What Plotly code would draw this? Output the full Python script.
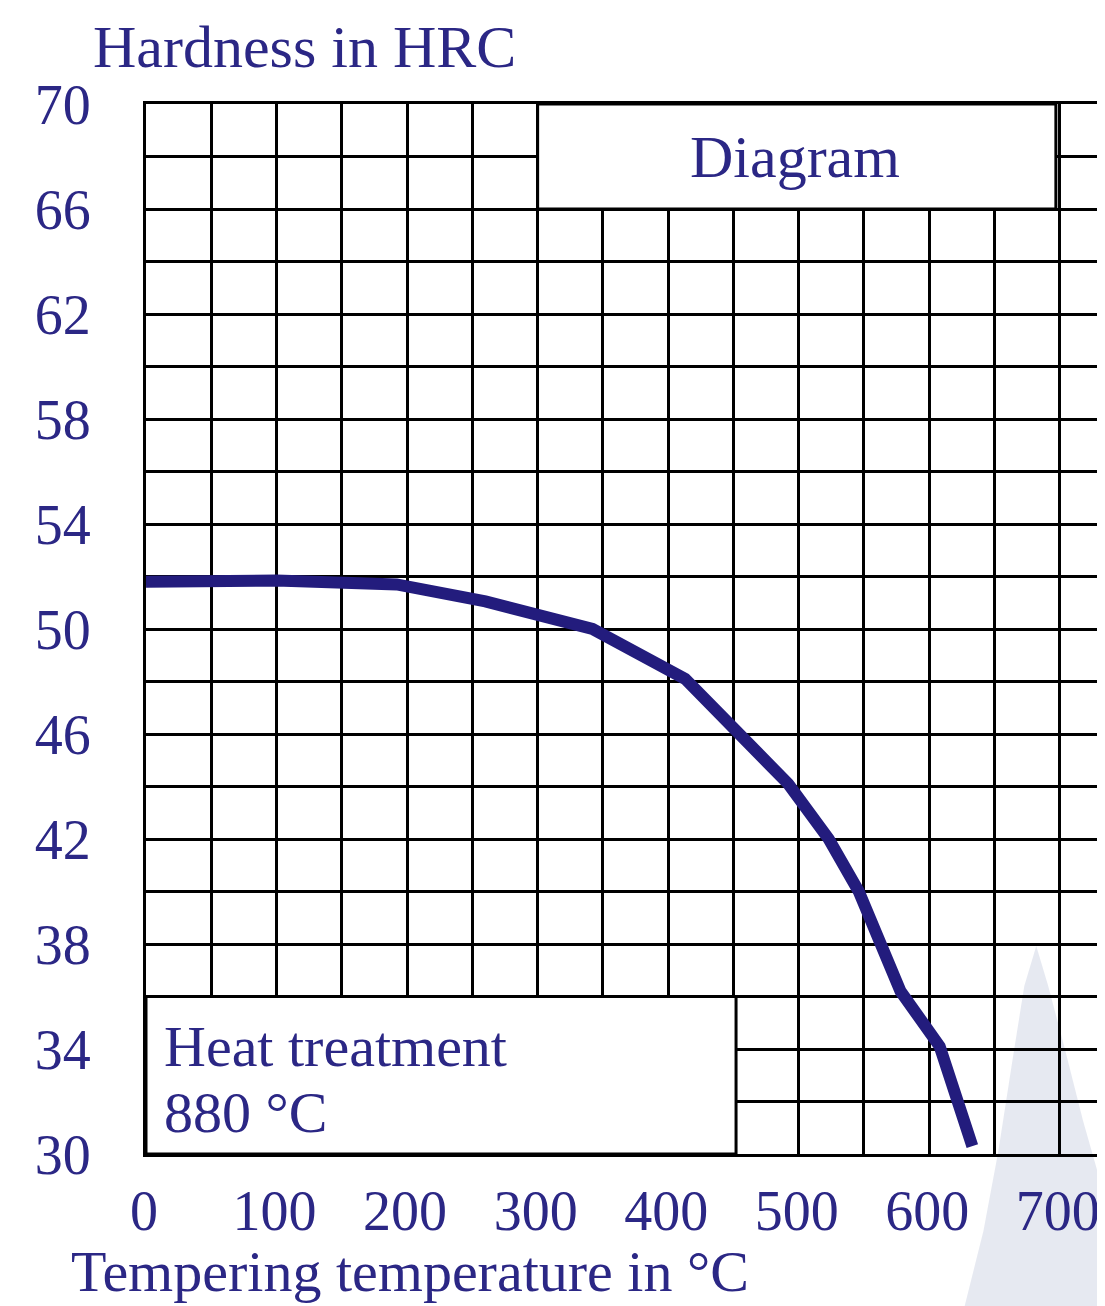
import plotly.graph_objects as go

# Data
temperature_c = [0, 100, 192, 260, 342, 413, 492, 523, 546, 578, 608, 633]
hardness_hrc = [51.8, 51.85, 51.7, 51.05, 50.0, 48.1, 44.1, 42.0, 40.0, 36.2, 34.1, 30.3]

x_tick_vals = [0, 100, 200, 300, 400, 500, 600, 700]
y_tick_vals = [30, 34, 38, 42, 46, 50, 54, 58, 62, 66, 70]

TEXT = "#2B2785"
CURVE = "#231C7D"
FONT = "Liberation Serif"

W, H = 1105, 1306
OFF = 7  # page body offset of the plot div
# desired plot area in screen pixels
SL, ST, SR, SB = 145, 103, 1105, 1153
L, T = SL - OFF, ST - OFF
B = H - (SB - OFF)
R = 0
PW, PH = W - L - R, H - T - B


def px(xs):
    return (xs - OFF - L) / PW


def py(ys):
    return (H - B - (ys - OFF)) / PH


fig = go.Figure()
fig.add_trace(go.Scatter(
    x=temperature_c, y=hardness_hrc, mode="lines",
    line=dict(color=CURVE, width=12, shape="linear"),
    hoverinfo="skip", showlegend=False,
))

fig.update_xaxes(
    range=[0, (SR - SL) / 1.3], tickvals=x_tick_vals, ticktext=[str(v) for v in x_tick_vals],
    showgrid=True, gridcolor="black", gridwidth=2.5,
    minor=dict(dtick=50, tick0=0, showgrid=True, gridcolor="black", gridwidth=2.5),
    showline=True, linecolor="black", linewidth=3, mirror=True,
    ticks="", zeroline=False,
    tickfont=dict(family=FONT, size=56, color=TEXT),
    ticklabelstandoff=6, ticklabelshift=-2,
)
fig.update_yaxes(
    range=[30, 70], tickvals=y_tick_vals, ticktext=[str(v) for v in y_tick_vals],
    showgrid=True, gridcolor="black", gridwidth=2.5,
    minor=dict(dtick=2, tick0=30, showgrid=True, gridcolor="black", gridwidth=2.5),
    showline=True, linecolor="black", linewidth=3, mirror=True,
    ticks="", zeroline=False,
    tickfont=dict(family=FONT, size=56, color=TEXT),
    ticklabelstandoff=41,
)

# Boxes covering the grid
fig.add_shape(type="rect", xref="x", yref="y", x0=300, x1=697, y0=66, y1=70,
              fillcolor="white", line=dict(color="black", width=3), layer="above")
fig.add_shape(type="rect", xref="x", yref="y", x0=0, x1=452, y0=30, y1=36,
              fillcolor="white", line=dict(color="black", width=3), layer="above")

# faint watermark in bottom right
pts = [(1038, 945), (1050, 985), (1066, 1045), (1085, 1120), (1105, 1190), (1105, 1306),
       (966, 1306), (985, 1230), (1000, 1150), (1014, 1060), (1026, 985)]
path = "M " + " L ".join(f"{px(a):.4f},{py(b):.4f}" for a, b in pts) + " Z"
fig.add_shape(type="path", xref="paper", yref="paper", path=path,
              fillcolor="rgba(226,229,238,0.85)", line=dict(width=0), layer="below")

ann_font = dict(family=FONT, size=58, color=TEXT)
fig.add_annotation(text="Hardness in HRC", xref="paper", yref="paper",
                   x=px(90), y=py(46), xanchor="left", yanchor="middle",
                   showarrow=False, font=dict(family=FONT, size=60, color=TEXT))
fig.add_annotation(text="Tempering temperature in °C", xref="paper", yref="paper",
                   x=px(68), y=py(1270), xanchor="left", yanchor="middle",
                   showarrow=False, font=dict(family=FONT, size=58, color=TEXT))
fig.add_annotation(text="Diagram", xref="x", yref="y", x=497, y=68,
                   xanchor="center", yanchor="middle", showarrow=False,
                   font=dict(family=FONT, size=60, color=TEXT))
fig.add_annotation(text="Heat treatment", xref="x", yref="y", x=12, y=34.1,
                   xanchor="left", yanchor="middle", showarrow=False, font=ann_font)
fig.add_annotation(text="880 °C", xref="x", yref="y", x=12, y=31.6,
                   xanchor="left", yanchor="middle", showarrow=False, font=ann_font)

fig.update_layout(
    width=W, height=H,
    margin=dict(l=L, r=R, t=T, b=B),
    paper_bgcolor="white", plot_bgcolor="white",
    showlegend=False,
)

fig.write_html("out.html")
